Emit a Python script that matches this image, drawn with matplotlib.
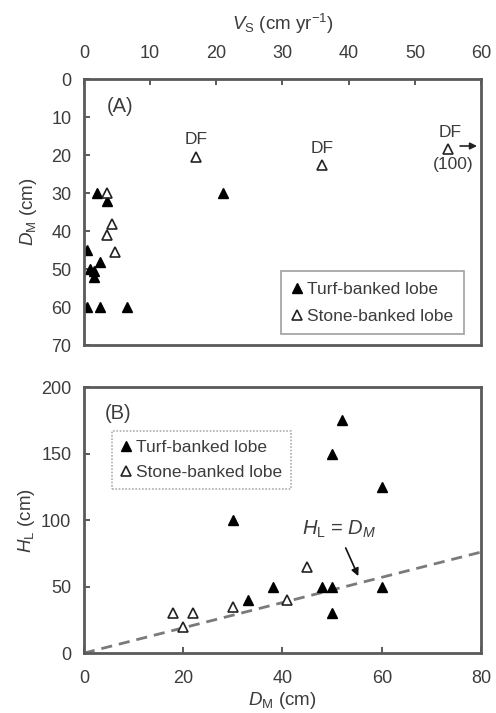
import matplotlib
matplotlib.use("Agg")
import matplotlib.pyplot as plt

plt.rcParams['font.family'] = ['Liberation Sans', 'DejaVu Sans']
plt.rcParams['mathtext.fontset'] = 'custom'
plt.rcParams['mathtext.rm'] = 'Liberation Sans'
plt.rcParams['mathtext.it'] = 'Liberation Sans:italic'

# Panel A: V_S vs D_M
turf_a_vs = [0.5, 2.5, 6.5, 0.5, 2.0, 3.5, 21.0, 1.0, 1.5, 2.5, 1.5]
turf_a_dm = [60, 60, 60, 45, 30, 32, 30, 50, 50.5, 48, 52]
stone_a_vs = [17.0, 36.0, 55.0, 3.5, 4.3, 3.5, 4.7]
stone_a_dm = [20.5, 22.5, 18.5, 30, 38, 41, 45.5]

# Panel B: D_M vs H_L
turf_b_dm = [52, 50, 60, 30, 38, 33, 48, 50, 50, 60]
turf_b_hl = [175, 150, 125, 100, 50, 40, 50, 50, 30, 50]
stone_b_dm = [18, 22, 20, 30, 41, 45]
stone_b_hl = [30, 30, 20, 35, 40, 65]
line_x = [0, 80]
line_y = [0, 76]

tc = '#3c3c3c'
sc = '#5a5a5a'
fs = 13

fig = plt.figure(figsize=(4.96, 7.13), dpi=100)
axA = fig.add_axes([0.169, 0.516, 0.801, 0.373])
axB = fig.add_axes([0.169, 0.084, 0.801, 0.373])

for ax in (axA, axB):
    for s in ax.spines.values():
        s.set_color(sc)
        s.set_linewidth(2.0)
    ax.tick_params(direction='in', length=4, width=1.4, color=sc,
                   labelsize=fs, labelcolor=tc)
    ax.tick_params(axis='y', pad=9)
    ax.tick_params(axis='x', pad=12)

# Panel A
axA.plot(turf_a_vs, turf_a_dm, '^', color='black', ms=7.5, ls='none',
         label='Turf-banked lobe')
axA.plot(stone_a_vs, stone_a_dm, '^', mfc='white', mec='#222222', mew=1.2,
         ms=6.5, ls='none', label='Stone-banked lobe')
axA.set_xlim(0, 60)
axA.set_ylim(70, 0)
axA.set_xticks(range(0, 61, 10))
axA.set_yticks(range(0, 71, 10))
axA.xaxis.tick_top()
axA.xaxis.set_label_position('top')
axA.tick_params(bottom=False, right=False)
axA.set_xlabel(r'$V_{\mathrm{S}}$ (cm yr$^{\mathrm{-1}}$)', fontsize=fs + 0.5,
               color=tc, labelpad=11)
axA.set_ylabel(r'$D_{\mathrm{M}}$ (cm)', fontsize=fs + 0.5, color=tc,
               labelpad=9)
axA.text(5.4, 7.2, '(A)', fontsize=fs + 1.5, color=tc, ha='center', va='center')
axA.text(17.0, 16.0, 'DF', fontsize=fs - 0.5, color=tc, ha='center', va='center')
axA.text(36.0, 18.2, 'DF', fontsize=fs - 0.5, color=tc, ha='center', va='center')
axA.text(55.3, 14.1, 'DF', fontsize=fs - 0.5, color=tc, ha='center', va='center')
axA.text(55.8, 22.4, '(100)', fontsize=fs - 0.5, color=tc, ha='center', va='center')
axA.annotate('', xy=(59.8, 17.6), xytext=(56.4, 17.6),
             arrowprops=dict(arrowstyle='-|>', color='#222222', lw=1.2,
                             mutation_scale=10))
legA = axA.legend(loc='lower right', bbox_to_anchor=(0.956, 0.04),
                  fontsize=fs - 0.5, frameon=True, fancybox=False,
                  handlelength=0.6, handletextpad=0.3, borderpad=0.6,
                  labelspacing=0.7, borderaxespad=0)
legA.get_frame().set_edgecolor('#888888')
legA.get_frame().set_linewidth(1.2)
for t in legA.get_texts():
    t.set_color(tc)

# Panel B
axB.plot(line_x, line_y, ls=(0, (4, 2.5)), color='#7a7a7a', lw=2.0)
axB.plot(turf_b_dm, turf_b_hl, '^', color='black', ms=7.5, ls='none',
         label='Turf-banked lobe')
axB.plot(stone_b_dm, stone_b_hl, '^', mfc='white', mec='#222222', mew=1.2,
         ms=6.5, ls='none', label='Stone-banked lobe')
axB.set_xlim(0, 80)
axB.set_ylim(0, 200)
axB.set_xticks(range(0, 81, 20))
axB.set_yticks(range(0, 201, 50))
axB.tick_params(top=False, right=False)
axB.set_xlabel(r'$D_{\mathrm{M}}$ (cm)', fontsize=fs + 0.5, color=tc,
               labelpad=2)
axB.set_ylabel(r'$H_{\mathrm{L}}$ (cm)', fontsize=fs + 0.5, color=tc,
               labelpad=3)
axB.text(6.9, 180, '(B)', fontsize=fs + 1.5, color=tc, ha='center', va='center')
axB.text(51.3, 93, r'$H_{\mathrm{L}}$ = $D_{M}$', fontsize=fs + 1.5, color=tc,
         ha='center', va='center')
axB.annotate('', xy=(55.5, 56), xytext=(52.5, 81),
             arrowprops=dict(arrowstyle='-|>', color='#111111', lw=1.2,
                             mutation_scale=11))
legB = axB.legend(loc='upper left', bbox_to_anchor=(0.07, 0.835),
                  fontsize=fs - 0.5, frameon=True, fancybox=False,
                  handlelength=0.6, handletextpad=0.3, borderpad=0.5,
                  labelspacing=0.6, borderaxespad=0)
legB.get_frame().set_edgecolor('#999999')
legB.get_frame().set_linestyle((0, (1, 1)))
legB.get_frame().set_linewidth(1.2)
for t in legB.get_texts():
    t.set_color(tc)

fig.savefig('out.png', dpi=100)
